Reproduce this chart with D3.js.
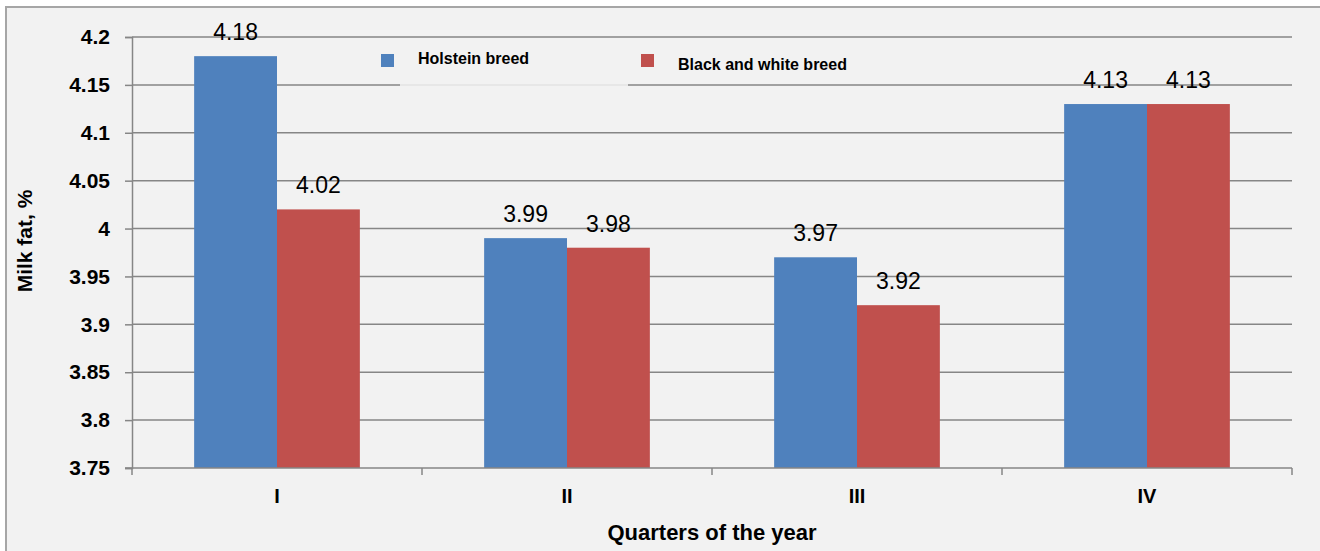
<!DOCTYPE html>
<html>
<head>
<meta charset="utf-8">
<script src="https://cdn.jsdelivr.net/npm/d3@7"></script>
<style>
  body { margin: 0; background: #fff; }
  text { font-family: "Liberation Sans", Arial, sans-serif; fill: #000; }
  .narrow { font-family: "Liberation Sans Narrow", "Liberation Sans", Arial, sans-serif; font-weight: bold; }
</style>
</head>
<body>
<div id="chart"></div>
<script>
// Milk fat by quarter, two breeds
var quarters = ['I', 'II', 'III', 'IV'];
var seriesNames = ['Holstein breed', 'Black and white breed'];
var holstein = [4.18, 3.99, 3.97, 4.13];
var blackWhite = [4.02, 3.98, 3.92, 4.13];
var yTicks = [3.75, 3.8, 3.85, 3.9, 3.95, 4, 4.05, 4.1, 4.15, 4.2];
var colors = ['#4f81bd', '#c0504d'];

var W = 1320, H = 551;
var o = {left: 132, right: 1292, top: 37, bottom: 468};

var svg = d3.select('#chart').append('svg')
    .attr('width', W)
    .attr('height', H);

// panel
svg.append('rect')
    .attr('x', 6).attr('y', 7)
    .attr('width', W + 10).attr('height', H + 10)
    .attr('fill', '#f2f2f2')
    .attr('stroke', '#a6a6a6')
    .attr('stroke-width', 2);

var x = d3.scaleBand().domain(quarters).range([o.left, o.right]);
var x1 = d3.scaleBand().domain(seriesNames).range([0, x.bandwidth()]).paddingOuter(0.75);
var y = d3.scaleLinear().domain([3.75, 4.2]).range([o.bottom, o.top]);

// gridlines
svg.append('g')
    .selectAll('line')
    .data(yTicks.slice(1))
    .enter().append('line')
    .attr('x1', o.left).attr('x2', o.right)
    .attr('y1', function(d) { return y(d); })
    .attr('y2', function(d) { return y(d); })
    .attr('stroke', '#868686')
    .attr('stroke-width', 1.5);

// y axis
var yAxis = svg.append('g')
    .attr('transform', 'translate(' + o.left + ',0)')
    .call(d3.axisLeft(y).tickValues(yTicks).tickSize(7).tickPadding(15).tickFormat(d3.format('')));
yAxis.select('.domain').attr('stroke', '#868686').attr('stroke-width', 1.5);
yAxis.selectAll('.tick line').attr('stroke', '#868686').attr('stroke-width', 1.5);
yAxis.selectAll('.tick text')
    .attr('font-size', 21)
    .attr('font-weight', 'bold')
    .attr('font-family', '"Liberation Sans", Arial, sans-serif')
    .attr('fill', '#000');

var data = quarters.map(function(q, i) {
    return {q: q, vals: [holstein[i], blackWhite[i]]};
});

var groups = svg.append('g')
    .selectAll('g')
    .data(data)
    .enter().append('g')
    .attr('transform', function(d) { return 'translate(' + x(d.q) + ',0)'; });

groups.selectAll('rect')
    .data(function(d) { return d.vals.map(function(v, j) { return {name: seriesNames[j], v: v, j: j}; }); })
    .enter().append('rect')
    .attr('x', function(d) { return x1(d.name); })
    .attr('width', x1.bandwidth())
    .attr('y', function(d) { return y(d.v); })
    .attr('height', function(d) { return y(3.75) - y(d.v); })
    .attr('fill', function(d) { return colors[d.j]; });

groups.selectAll('text')
    .data(function(d) { return d.vals.map(function(v, j) { return {name: seriesNames[j], v: v}; }); })
    .enter().append('text')
    .attr('x', function(d) { return x1(d.name) + x1.bandwidth() / 2; })
    .attr('y', function(d) { return y(d.v) - 16; })
    .attr('text-anchor', 'middle')
    .attr('font-size', 23)
    .text(function(d) { return d3.format('.2f')(d.v); });

// x axis
var xAxis = svg.append('g')
    .attr('transform', 'translate(0,' + o.bottom + ')')
    .call(d3.axisBottom(x).tickSize(0).tickPadding(21));
xAxis.select('.domain').remove();
xAxis.selectAll('.tick text')
    .attr('font-size', 20)
    .attr('font-weight', 'bold')
    .attr('font-family', '"Liberation Sans Narrow", "Liberation Sans", Arial, sans-serif')
    .attr('fill', '#000');
svg.append('line')
    .attr('x1', o.left - 7).attr('x2', o.right)
    .attr('y1', o.bottom).attr('y2', o.bottom)
    .attr('stroke', '#868686').attr('stroke-width', 1.5);
svg.append('g')
    .selectAll('line')
    .data(quarters.concat(['end']))
    .enter().append('line')
    .attr('x1', function(d) { return d === 'end' ? o.right : x(d); })
    .attr('x2', function(d) { return d === 'end' ? o.right : x(d); })
    .attr('y1', o.bottom).attr('y2', o.bottom + 7)
    .attr('stroke', '#868686').attr('stroke-width', 1.5);

// axis titles
svg.append('text')
    .attr('class', 'narrow')
    .attr('x', 712).attr('y', 540)
    .attr('text-anchor', 'middle')
    .attr('font-size', 22)
    .text('Quarters of the year');

svg.append('text')
    .attr('class', 'narrow')
    .attr('transform', 'translate(32,241) rotate(-90)')
    .attr('text-anchor', 'middle')
    .attr('font-size', 21)
    .text('Milk fat, %');

// legend (covers the gridline under it)
svg.append('line')
    .attr('x1', 400).attr('x2', 628)
    .attr('y1', y(4.15)).attr('y2', y(4.15))
    .attr('stroke', '#ffffff').attr('stroke-width', 1.5);

var legendPos = [{sx: 381, sy: 54, tx: 418, ty: 64}, {sx: 641, sy: 54, tx: 678, ty: 70}];
var legend = svg.append('g')
    .selectAll('g')
    .data(seriesNames)
    .enter().append('g');
legend.append('rect')
    .attr('x', function(d, i) { return legendPos[i].sx; })
    .attr('y', function(d, i) { return legendPos[i].sy; })
    .attr('width', 13).attr('height', 13)
    .attr('fill', function(d, i) { return colors[i]; });
legend.append('text')
    .attr('class', 'narrow')
    .attr('x', function(d, i) { return legendPos[i].tx; })
    .attr('y', function(d, i) { return legendPos[i].ty; })
    .attr('font-size', 16)
    .text(function(d) { return d; });
</script>
</body>
</html>
